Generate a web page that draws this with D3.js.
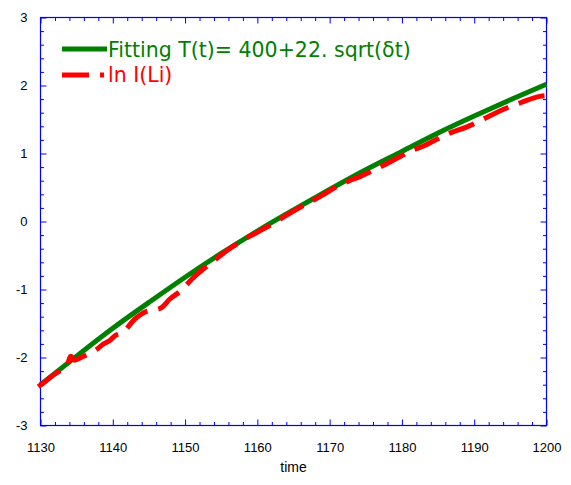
<!DOCTYPE html>
<html>
<head>
<meta charset="utf-8">
<script src="https://cdn.jsdelivr.net/npm/d3@7"></script>
<style>
    body { margin: 0; background: #fff; }
    text { font-family: "Liberation Sans", Arial, sans-serif; }
    .legend text { font-family: "DejaVu Sans", sans-serif; font-size: 20.5px; }
</style>
</head>
<body>
<div id="chart"></div>
<script>
// fitted curve
const fitTime = [1130, 1135, 1140, 1145, 1150, 1155, 1160, 1165, 1170, 1175, 1180, 1185, 1190, 1195, 1200];
const fitValue = [-2.40, -1.98, -1.57, -1.19, -0.82, -0.47, -0.14, 0.17, 0.47, 0.76, 1.03, 1.30, 1.55, 1.79, 2.02];

// measured ln I(Li)
const liTime = [1129.7, 1130.7, 1131.9, 1132.8, 1133.6, 1134.2, 1134.7, 1135.8, 1137.0, 1137.9, 1138.6, 1139.7,
    1140.3, 1141.5, 1143.0, 1144.7, 1145.8, 1146.7, 1147.9, 1149.5, 1150.3, 1151.1, 1152.5, 1154.3, 1155.9,
    1157.3, 1158.7, 1160.0, 1161.0, 1162.5, 1164.0, 1166.1, 1168.9, 1170.9, 1172.5, 1174.2, 1176.2, 1179.5,
    1181.3, 1183.0, 1184.5, 1186.2, 1189.4, 1191.5, 1194.5, 1196.5, 1199.1, 1200];
const liValue = [-2.43, -2.35, -2.25, -2.19, -2.14, -1.98, -2.04, -1.99, -1.93, -1.87, -1.81, -1.74,
    -1.68, -1.62, -1.44, -1.32, -1.30, -1.27, -1.14, -1.01, -0.92, -0.83, -0.70, -0.55, -0.42,
    -0.32, -0.23, -0.16, -0.10, -0.01, 0.09, 0.22, 0.38, 0.51, 0.59, 0.66, 0.76, 0.94,
    1.04, 1.11, 1.19, 1.28, 1.41, 1.52, 1.67, 1.75, 1.84, 1.85];

const xTicks = [1130, 1140, 1150, 1160, 1170, 1180, 1190, 1200];
const yTicks = [-3, -2, -1, 0, 1, 2, 3];
const legendLabels = ["Fitting T(t)= 400+22. sqrt(\u03b4t)", "ln I(Li)"];

const widthWithMargin = 571, heightWithMargin = 485,
    margin = {top: 17.5, right: 24.5, bottom: 59.5, left: 40.5},
    width = widthWithMargin - margin.left - margin.right,
    height = heightWithMargin - margin.top - margin.bottom;

const blue = "#0000ff", green = "#008000", red = "#ff0000";

const svg = d3.select("#chart")
    .append("svg")
    .attr("width", widthWithMargin)
    .attr("height", heightWithMargin)
    .append("g")
    .attr("transform", "translate(" + margin.left + "," + margin.top + ")");

const x = d3.scaleLinear().domain([1130, 1200]).range([0, width]);
const y = d3.scaleLinear().domain([-3, 3]).range([height, 0]);

const xMinor = d3.range(1130, 1201, 2).filter(d => d % 10 !== 0);
const yMinor = d3.range(-30, 31, 2).filter(d => d % 10 !== 0).map(d => d / 10);

function styleAxis(g) {
    g.select(".domain").remove();
    g.selectAll(".tick line").attr("stroke", blue);
    g.selectAll("text").attr("fill", "#000").style("font-size", "13px");
}

// major ticks, all four sides, pointing inward
svg.append("g")
    .attr("transform", `translate(0,${height})`)
    .call(d3.axisBottom(x).tickValues(xTicks).tickSizeInner(-6).tickSizeOuter(0).tickPadding(17).tickFormat(d => String(d)))
    .call(styleAxis);
svg.append("g")
    .call(d3.axisLeft(y).tickValues(yTicks).tickSizeInner(-6).tickSizeOuter(0).tickPadding(13).tickFormat(d => String(d)))
    .call(styleAxis);
svg.append("g")
    .call(d3.axisTop(x).tickValues(xTicks).tickSizeInner(-6).tickSizeOuter(0).tickFormat(""))
    .call(styleAxis);
svg.append("g")
    .attr("transform", `translate(${width},0)`)
    .call(d3.axisRight(y).tickValues(yTicks).tickSizeInner(-6).tickSizeOuter(0).tickFormat(""))
    .call(styleAxis);

// minor ticks
svg.append("g")
    .attr("transform", `translate(0,${height})`)
    .call(d3.axisBottom(x).tickValues(xMinor).tickSizeInner(-3.5).tickSizeOuter(0).tickFormat(""))
    .call(styleAxis);
svg.append("g")
    .call(d3.axisTop(x).tickValues(xMinor).tickSizeInner(-3.5).tickSizeOuter(0).tickFormat(""))
    .call(styleAxis);
svg.append("g")
    .call(d3.axisLeft(y).tickValues(yMinor).tickSizeInner(-3.5).tickSizeOuter(0).tickFormat(""))
    .call(styleAxis);
svg.append("g")
    .attr("transform", `translate(${width},0)`)
    .call(d3.axisRight(y).tickValues(yMinor).tickSizeInner(-3.5).tickSizeOuter(0).tickFormat(""))
    .call(styleAxis);

svg.append("rect")
    .attr("width", width)
    .attr("height", height)
    .attr("fill", "none")
    .attr("stroke", blue)
    .attr("stroke-width", 1.2);

const fitData = fitTime.map((t, i) => ({t, v: fitValue[i]}));
const liData = liTime.map((t, i) => ({t, v: liValue[i]}));

const fitLine = d3.line()
    .x(d => x(d.t))
    .y(d => y(d.v))
    .curve(d3.curveNatural);

const liLine = d3.line()
    .x(d => x(d.t))
    .y(d => y(d.v))
    .curve(d3.curveMonotoneX);

svg.append("path")
    .datum(fitData)
    .attr("d", fitLine)
    .attr("fill", "none")
    .attr("stroke", green)
    .attr("stroke-width", 5);

svg.append("path")
    .datum(liData)
    .attr("d", liLine)
    .attr("fill", "none")
    .attr("stroke", red)
    .attr("stroke-width", 5)
    .attr("stroke-dasharray", "27,11");

// legend
const legend = svg.append("g")
    .attr("class", "legend")
    .attr("transform", `translate(${62 - margin.left},0)`);
legend.append("line")
    .attr("x1", 0).attr("x2", 45).attr("y1", 49 - margin.top).attr("y2", 49 - margin.top)
    .attr("stroke", green).attr("stroke-width", 5);
legend.append("line")
    .attr("x1", 0).attr("x2", 42).attr("y1", 75 - margin.top).attr("y2", 75 - margin.top)
    .attr("stroke", red).attr("stroke-width", 5).attr("stroke-dasharray", "27,11");
legend.append("text")
    .attr("x", 46).attr("y", 57 - margin.top)
    .attr("fill", green)
    .text(legendLabels[0]);
legend.append("text")
    .attr("x", 46).attr("y", 82 - margin.top)
    .attr("fill", red)
    .text(legendLabels[1]);

svg.append("text")
    .attr("x", width / 2)
    .attr("y", 472 - margin.top)
    .attr("text-anchor", "middle")
    .style("font-size", "14px")
    .text("time");
</script>
</body>
</html>
